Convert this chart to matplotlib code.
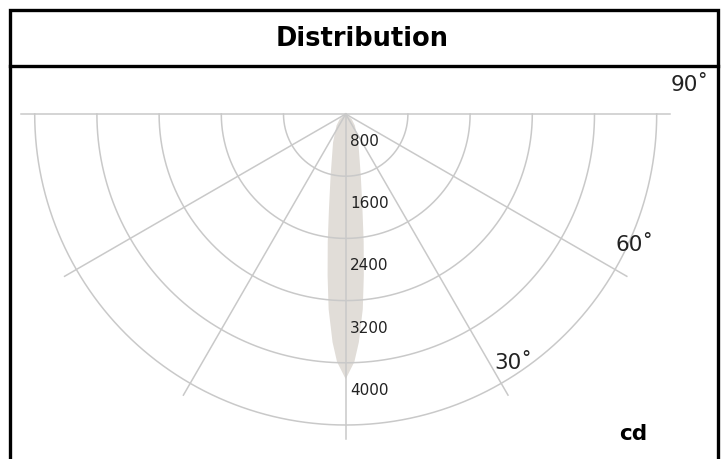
import numpy as np
import matplotlib.pyplot as plt
from matplotlib.lines import Line2D
from matplotlib.patches import Rectangle

# luminous intensity (cd), symmetric about nadir
angles_deg = [0, 2, 3.3, 5, 6.4, 8, 10, 13.7, 24, 38.5, 50, 90]
intensity_cd = [3410, 3190, 2940, 2520, 2090, 1660, 1240, 820, 400, 190, 100, 0]

ring_values = [800, 1600, 2400, 3200, 4000]
ring_labels = ["800", "1600", "2400", "3200", "4000"]
spoke_angles = [-90, -60, -30, 0, 30, 60, 90]
angle_labels = ["30˚", "60˚", "90˚"]

W, H = 721, 460
grid_color = "#c9c9c9"
lobe_color = "#e1ddd8"
text_color = "#222222"

fig = plt.figure(figsize=(W / 100, H / 100), dpi=100)

# polar axes centred on the light source (pixel coords from top-left)
cx, cy = 345.7, 115.0
r_max = 4200
px_per_cd = 62.2 / 800
rad_px = r_max * px_per_cd
ax = fig.add_axes(
    [(cx - rad_px) / W, (H - cy - rad_px) / H, 2 * rad_px / W, 2 * rad_px / H],
    projection="polar",
)
ax.set_theta_zero_location("S")
ax.set_rlim(0, r_max)
ax.grid(False)
ax.set_xticks([])
ax.set_yticks([])
ax.spines["polar"].set_visible(False)
ax.patch.set_visible(False)

# lobe
theta = [-a for a in angles_deg[::-1]] + angles_deg[1:]
vals = intensity_cd[::-1] + intensity_cd[1:]
ax.fill(np.radians(theta), vals, color=lobe_color, lw=0, zorder=1)

# rings and spokes
arc = np.radians(np.linspace(-90, 90, 361))
for v in ring_values:
    ax.plot(arc, [v] * len(arc), color=grid_color, lw=1.1, zorder=2, clip_on=False)
spoke_len = 4175
for a in spoke_angles:
    ax.plot([np.radians(a)] * 2, [0, spoke_len], color=grid_color, lw=1.1,
            zorder=2, clip_on=False)

for v, lbl in zip(ring_values, ring_labels):
    ax.annotate(lbl, xy=(0, v - 460), xytext=(3, 0), textcoords="offset points",
                ha="left", va="center", fontsize=11, color=text_color,
                family="DejaVu Sans", annotation_clip=False, zorder=3)

# angle labels (theta deg, r cd)
angle_pos = [(34, 3845), (65.8, 4077), (95, 4438)]
for (t, r), lbl in zip(angle_pos, angle_labels):
    ax.text(np.radians(t), r, lbl, ha="center", va="center", fontsize=15.5,
            color=text_color, family="DejaVu Sans", clip_on=False)

# frame and title box
fig.add_artist(Rectangle((10 / W, -0.05), 708 / W, 1 - 11 / H + 0.05, fill=False,
                         lw=2.4, edgecolor="black", transform=fig.transFigure,
                         joinstyle="miter"))
fig.add_artist(Line2D([10 / W, 718 / W], [1 - 66.5 / H] * 2, color="black",
                      lw=2.4, transform=fig.transFigure))
fig.text(362 / W, 1 - 38.5 / H, "Distribution", ha="center", va="center",
         fontsize=18.5, fontweight="bold", family="DejaVu Sans", color="black")
fig.text(633 / W, 1 - 434 / H, "cd", ha="center", va="center",
         fontsize=15.5, fontweight="bold", family="DejaVu Sans", color="black")

fig.savefig("out.png", dpi=100)
